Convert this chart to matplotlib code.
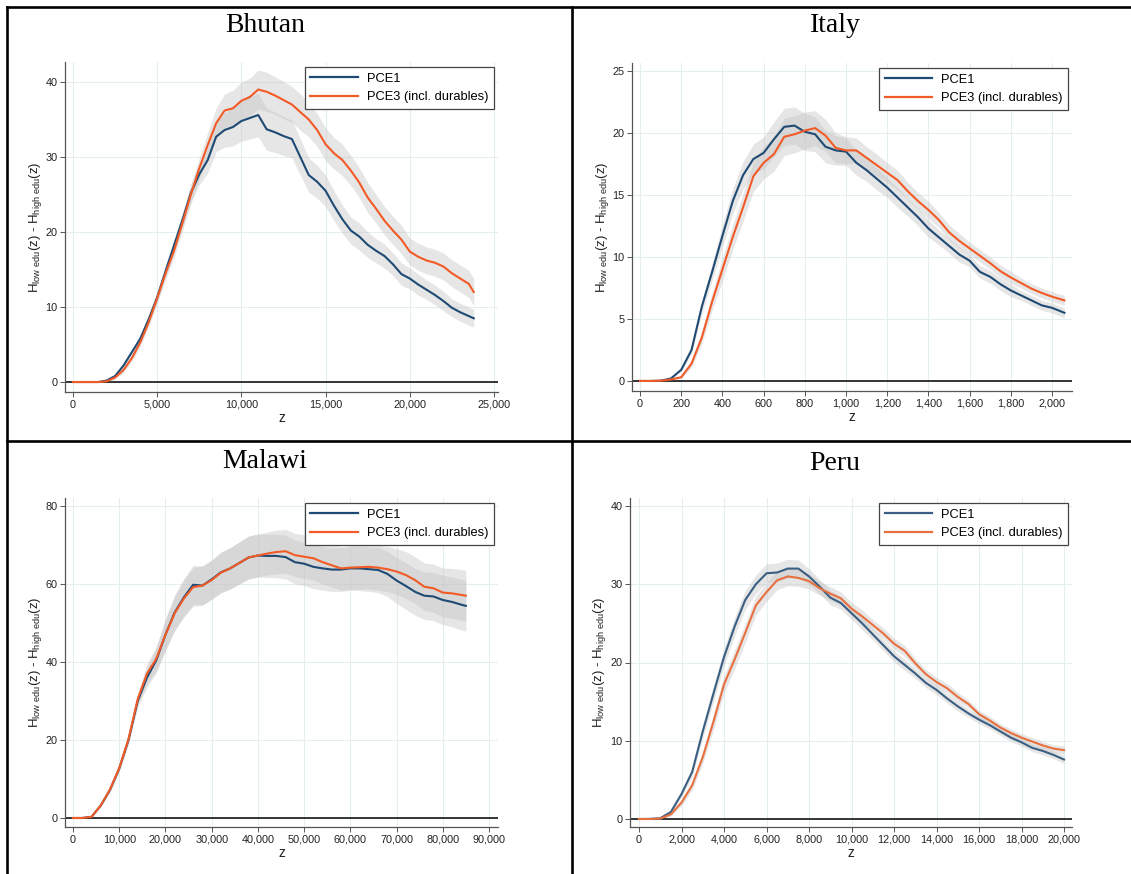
import numpy as np
import matplotlib
matplotlib.use('Agg')
import matplotlib.pyplot as plt
from matplotlib.ticker import FuncFormatter
from matplotlib.lines import Line2D

plt.rcParams['font.family'] = ['Liberation Sans', 'DejaVu Sans']
plt.rcParams['mathtext.fontset'] = 'custom'
plt.rcParams['mathtext.rm'] = 'Liberation Sans'
plt.rcParams['mathtext.it'] = 'Liberation Sans'

# ---- data ----
# Bhutan
bhu_z = np.append(np.arange(0, 23501, 500), 23800)
bhu_pce1 = [0, 0, 0, 0, 0.2, 0.8, 2.2, 4.0, 5.8, 8.4, 11.3, 14.8, 18.2, 21.6, 25.2, 27.7, 29.6, 32.7,
            33.6, 34.0, 34.8, 35.2, 35.6, 33.7, 33.3, 32.8, 32.4, 30.0, 27.6, 26.7, 25.5, 23.5, 21.7,
            20.2, 19.4, 18.3, 17.5, 16.8, 15.7, 14.4, 13.8, 13.0, 12.3, 11.6, 10.8, 9.9, 9.3, 8.8, 8.5]
bhu_pce3 = [0, 0, 0, 0, 0.1, 0.6, 1.6, 3.2, 5.3, 8.0, 11.2, 14.5, 17.5, 21.2, 25.0, 28.5, 31.6, 34.5,
            36.2, 36.5, 37.5, 38.0, 39.0, 38.7, 38.2, 37.6, 37.0, 36.0, 35.0, 33.6, 31.7, 30.5, 29.6,
            28.2, 26.6, 24.6, 23.1, 21.5, 20.2, 19.0, 17.4, 16.7, 16.2, 15.9, 15.4, 14.5, 13.8, 13.1, 12.0]
bhu_ci1 = [0, 0, 0, 0, 0.1, 0.2, 0.3, 0.4, 0.5, 0.6, 0.7, 0.8, 0.9, 1.0, 1.2, 1.4, 1.7, 2.0, 2.3,
           2.5, 2.7, 2.8, 2.9, 2.8, 2.7, 2.6, 2.5, 2.4, 2.3, 2.2, 2.1, 2.0, 1.9, 1.8, 1.8, 1.7, 1.6,
           1.6, 1.5, 1.5, 1.4, 1.4, 1.3, 1.3, 1.3, 1.2, 1.2, 1.2, 1.2]
bhu_ci3 = [0, 0, 0, 0, 0.1, 0.2, 0.3, 0.4, 0.5, 0.6, 0.7, 0.8, 0.9, 1.0, 1.2, 1.4, 1.7, 2.0, 2.2,
           2.4, 2.5, 2.5, 2.6, 2.6, 2.5, 2.5, 2.4, 2.4, 2.3, 2.2, 2.2, 2.1, 2.1, 2.0, 2.0, 2.0, 1.9,
           1.9, 1.9, 1.9, 1.8, 1.8, 1.8, 1.8, 1.8, 1.8, 1.8, 1.8, 1.8]

# Italy
ita_z = np.append(np.arange(0, 2001, 50), 2060)
ita_pce1 = [0, 0, 0.02, 0.2, 0.9, 2.5, 6.0, 8.8, 11.7, 14.5, 16.6, 17.9, 18.4, 19.5, 20.5, 20.6,
            20.1, 19.9, 18.9, 18.6, 18.5, 17.6, 17.0, 16.3, 15.6, 14.8, 14.0, 13.2, 12.3, 11.6, 10.9,
            10.2, 9.7, 8.8, 8.4, 7.8, 7.3, 6.9, 6.5, 6.1, 5.9, 5.5]
ita_pce3 = [0, 0, 0.02, 0.12, 0.3, 1.4, 3.5, 6.4, 9.0, 11.6, 14.0, 16.5, 17.6, 18.3, 19.7, 19.9,
            20.2, 20.4, 19.8, 18.8, 18.6, 18.6, 18.0, 17.4, 16.8, 16.2, 15.3, 14.5, 13.8, 13.0, 12.0,
            11.3, 10.7, 10.1, 9.5, 8.85, 8.35, 7.9, 7.45, 7.1, 6.8, 6.5]
ita_ci = [0, 0, 0, 0.05, 0.1, 0.3, 0.5, 0.7, 0.9, 1.0, 1.1, 1.2, 1.3, 1.4, 1.5, 1.5, 1.5, 1.4,
          1.3, 1.2, 1.1, 1.0, 0.9, 0.9, 0.8, 0.8, 0.7, 0.7, 0.7, 0.6, 0.6, 0.6, 0.5, 0.5, 0.5, 0.5,
          0.5, 0.4, 0.4, 0.4, 0.4, 0.4]

# Malawi
mwi_z = np.append(np.arange(0, 84001, 2000), 85000)
mwi_pce1 = [0, 0, 0.3, 3.2, 7.2, 12.7, 20.0, 30.0, 36.0, 40.4, 47.0, 52.7, 56.6, 59.8, 59.6, 61.2,
            63.0, 64.0, 65.4, 66.8, 67.3, 67.2, 67.2, 66.9, 65.6, 65.2, 64.4, 64.0, 63.7, 63.7, 64.0,
            64.0, 63.8, 63.6, 62.6, 60.9, 59.5, 58.0, 57.0, 56.8, 55.9, 55.4, 54.7, 54.4]
mwi_pce3 = [0, 0, 0.3, 3.2, 7.3, 12.8, 20.2, 30.5, 37.0, 40.8, 47.0, 52.5, 56.3, 59.2, 59.6, 61.0,
            62.9, 64.0, 65.4, 66.8, 67.3, 67.8, 68.2, 68.4, 67.4, 67.0, 66.6, 65.6, 64.8, 64.0, 64.2,
            64.3, 64.4, 64.2, 63.8, 63.2, 62.3, 61.0, 59.3, 58.9, 57.8, 57.6, 57.2, 57.0]
mwi_ci = [0, 0, 0.1, 0.3, 0.5, 0.8, 1.0, 1.5, 2.5, 3.2, 4.0, 4.5, 4.8, 5.0, 5.0, 5.0, 5.2, 5.3,
          5.4, 5.5, 5.5, 5.5, 5.6, 5.6, 5.6, 5.6, 5.6, 5.6, 5.6, 5.6, 5.6, 5.7, 5.7, 5.8, 5.8, 5.9,
          6.0, 6.0, 6.1, 6.2, 6.3, 6.4, 6.5, 6.5]

# Peru
per_z = np.arange(0, 20001, 500)
per_pce1 = [0, 0.02, 0.1, 0.9, 3.2, 6.0, 11.2, 16.0, 20.7, 24.6, 28.0, 30.0, 31.4, 31.5, 32.0, 32.0,
            31.0, 29.7, 28.3, 27.6, 26.3, 25.0, 23.6, 22.2, 20.8, 19.7, 18.6, 17.4, 16.5, 15.4, 14.4,
            13.5, 12.7, 12.0, 11.2, 10.4, 9.8, 9.1, 8.7, 8.2, 7.6]
per_pce3 = [0, 0, 0.05, 0.6, 2.1, 4.3, 7.9, 12.4, 17.2, 20.4, 23.8, 27.3, 29.0, 30.5, 31.0, 30.8,
            30.4, 29.5, 28.8, 28.2, 26.9, 25.9, 24.8, 23.7, 22.4, 21.5, 19.9, 18.5, 17.5, 16.7, 15.6,
            14.7, 13.4, 12.6, 11.7, 11.0, 10.4, 9.9, 9.4, 9.0, 8.8]
per_ci = [0, 0, 0.05, 0.2, 0.4, 0.6, 0.8, 1.0, 1.1, 1.2, 1.2, 1.2, 1.2, 1.2, 1.2, 1.1, 1.0, 0.9,
          0.9, 0.8, 0.8, 0.8, 0.7, 0.7, 0.7, 0.7, 0.6, 0.6, 0.6, 0.6, 0.6, 0.5, 0.5, 0.5, 0.5, 0.5,
          0.5, 0.5, 0.5, 0.5, 0.5]

labels = ['PCE1', 'PCE3 (incl. durables)']

W, H = 1131, 874
fig = plt.figure(figsize=(W / 100, H / 100), dpi=100)

def fx(px):
    return px / W

def fy(py):
    return 1 - py / H

# panel settings: title position and axes box in pixels (left, right, top, bottom)
panels = [
    dict(title='Bhutan', tpos=(265, 25), box=(65, 498, 62, 392), xlim=(-475, 25240), ylim=(-1.33, 42.67),
         xstep=5000, ystep=10, xmax=25000, ymax=40,
         z=bhu_z, s1=bhu_pce1, s3=bhu_pce3, c1=bhu_ci1, c3=bhu_ci3,
         col1='#1f4a73', col3='#f25a26'),
    dict(title='Italy', tpos=(835, 25), box=(632, 1072, 63, 391), xlim=(-39, 2097), ylim=(-0.81, 25.65),
         xstep=200, ystep=5, xmax=2000, ymax=25,
         z=ita_z, s1=ita_pce1, s3=ita_pce3, c1=ita_ci, c3=ita_ci,
         col1='#1f4a73', col3='#f25a26'),
    dict(title='Malawi', tpos=(265, 462), box=(65, 498, 498, 827), xlim=(-1731, 91950), ylim=(-2.31, 82.05),
         xstep=10000, ystep=20, xmax=90000, ymax=80,
         z=mwi_z, s1=mwi_pce1, s3=mwi_pce3, c1=mwi_ci, c3=mwi_ci,
         col1='#1f4a73', col3='#f25a26'),
    dict(title='Peru', tpos=(835, 463), box=(630, 1072, 498, 827), xlim=(-424, 20376), ylim=(-1.02, 41.02),
         xstep=2000, ystep=10, xmax=20000, ymax=40,
         z=per_z, s1=per_pce1, s3=per_pce3, c1=per_ci, c3=per_ci,
         col1='#3b5f82', col3='#e8703f'),
]

thousands = FuncFormatter(lambda v, p: f'{v:,.0f}')

for p in panels:
    l, r, t, b = p['box']
    ax = fig.add_axes([fx(l), fy(b), (r - l) / W, (b - t) / H])
    z = np.asarray(p['z'])
    s1, s3 = np.asarray(p['s1']), np.asarray(p['s3'])
    c1, c3 = np.asarray(p['c1']), np.asarray(p['c3'])

    # confidence bands
    ax.fill_between(z, s1 - c1, s1 + c1, color='#c4c4c4', alpha=0.42, lw=0, zorder=1)
    ax.fill_between(z, s3 - c3, s3 + c3, color='#c4c4c4', alpha=0.42, lw=0, zorder=1)
    ax.axhline(0, color='black', lw=1.1, zorder=2)
    ax.plot(z, s1, color=p['col1'], lw=1.5, label=labels[0], zorder=3)
    ax.plot(z, s3, color=p['col3'], lw=1.5, label=labels[1], zorder=3)

    ax.set_xlim(*p['xlim'])
    ax.set_ylim(*p['ylim'])
    ax.set_xticks(np.arange(0, p['xmax'] + 1, p['xstep']))
    ax.set_yticks(np.arange(0, p['ymax'] + 0.1, p['ystep']))
    ax.xaxis.set_major_formatter(thousands)
    ax.yaxis.set_major_formatter(thousands)
    ax.grid(True, color='#e4eef0', lw=0.8, zorder=0)
    ax.set_axisbelow(True)
    for side in ['top', 'right']:
        ax.spines[side].set_visible(False)
    for side in ['left', 'bottom']:
        ax.spines[side].set_color('#555555')
        ax.spines[side].set_linewidth(0.9)
    ax.tick_params(axis='both', labelsize=7.8, length=3.5, width=0.7, color='#555555', pad=2,
                   labelcolor='#222222')

    ax.text(0.5, -0.078, 'z', transform=ax.transAxes, ha='center', va='center', fontsize=10,
            color='#222222')
    ax.text(-0.068, 0.5, r'H$_{\mathrm{low\ edu}}$(z) - H$_{\mathrm{high\ edu}}$(z)',
            transform=ax.transAxes, rotation=90, ha='center', va='center', fontsize=9.5,
            color='#222222')

    leg = ax.legend(loc='upper right', bbox_to_anchor=(1 - 4 / (r - l), 1 - 5 / (b - t)),
                    borderaxespad=0, fontsize=9.3, handlelength=3.7, handletextpad=0.65,
                    labelspacing=0.5, borderpad=0.45, fancybox=False, framealpha=1,
                    edgecolor='#444444')
    leg.get_frame().set_linewidth(0.9)
    for line in leg.get_lines():
        line.set_linewidth(1.6)

    fig.text(fx(p['tpos'][0]), fy(p['tpos'][1]), p['title'], ha='center', va='center',
             fontsize=20, family='Liberation Serif')

# table borders
for (x0, y0, x1, y1) in [(7, 7, W, 7), (7, 7, 7, H), (572, 7, 572, H), (7, 441, W, 441)]:
    fig.add_artist(Line2D([fx(x0), fx(x1)], [fy(y0), fy(y1)], color='black', lw=1.9))

fig.savefig('out.png', dpi=100)
